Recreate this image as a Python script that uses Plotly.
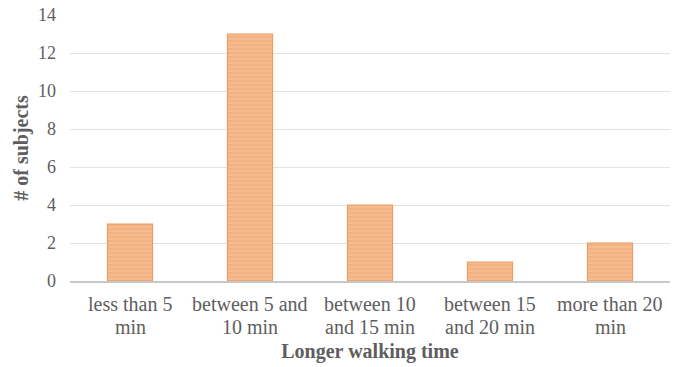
import plotly.graph_objects as go

categories = ["less than 5<br>min", "between 5 and<br>10 min", "between 10<br>and 15 min",
              "between 15<br>and 20 min", "more than 20<br>min"]
subjects = [3, 13, 4, 1, 2]
y_ticks = [0, 2, 4, 6, 8, 10, 12, 14]

font_family = "Liberation Serif, Times New Roman, serif"
text_color = "#5E5E5E"

fig = go.Figure()
fig.add_trace(go.Bar(
    x=categories, y=subjects,
    marker=dict(
        color="#F5B586",
        line=dict(color="#EE9A60", width=1.2),
        pattern=dict(shape="-", fgcolor="#F0A874", bgcolor="#F6BC90", size=4, solidity=0.25, fillmode="replace"),
    ),
    width=0.375,
))

# category labels drawn as two tight lines under each category
annotations = []
for cat in categories:
    for i, line in enumerate(cat.split("<br>")):
        annotations.append(dict(
            x=cat, xref="x", y=0, yref="paper", yanchor="middle",
            yshift=-23 - 23 * i, text=line, showarrow=False,
            font=dict(family=font_family, size=20, color=text_color),
        ))

fig.update_layout(
    width=680, height=367,
    margin=dict(l=70, r=10, t=15, b=86, autoexpand=False),
    plot_bgcolor="white", paper_bgcolor="white",
    font=dict(family=font_family, size=18, color=text_color),
    showlegend=False,
    annotations=annotations,
    xaxis=dict(
        title=dict(text="<b>Longer walking time</b>", font=dict(size=20, color=text_color), standoff=62),
        showline=True, linecolor="#C8C8C8", linewidth=1.5,
        ticks="", showticklabels=False, automargin=False,
    ),
    yaxis=dict(
        title=dict(text="<b># of subjects</b>", font=dict(size=20, color=text_color), standoff=4),
        range=[0, 14], tickvals=y_ticks,
        showgrid=True, gridcolor="#E3E3E3", gridwidth=1,
        zeroline=False, showline=False, automargin=False,
        tickfont=dict(size=18, color=text_color), ticklabelstandoff=13,
        ticklabeloverflow="allow",
    ),
)
fig.write_html("out.html", config={"displayModeBar": False},
               post_script="document.body.style.margin='0px';")
